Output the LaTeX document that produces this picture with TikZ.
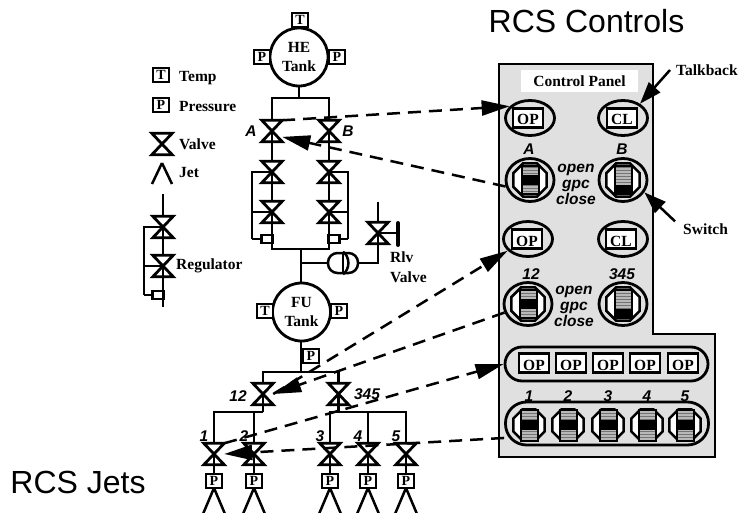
\documentclass[tikz,border=0pt]{standalone}
\usepackage{fontspec}
\setmainfont{Liberation Serif}
\newfontfamily\sansfont{Liberation Sans}
\usepackage{xcolor}
\usetikzlibrary{arrows.meta, positioning, calc, shapes.geometric, patterns}

\definecolor{panelgray}{gray}{0.88}

\tikzset{
  pipe/.style={line width=2.5pt},
  dasharrow/.style={line width=2.5pt, dash pattern=on 13pt off 8pt, -{Triangle[length=28pt,width=15pt]}},
  tagarrow/.style={line width=2.5pt, -{Triangle[length=22pt,width=15pt]}},
  valvept/.style={inner sep=0pt, minimum width=20pt, minimum height=21pt},
  valveline/.style={line width=2.8pt, line join=miter},
  tank/.style={circle, draw, line width=2.8pt, fill=white, minimum size=58pt, inner sep=0pt, align=center, font=\bfseries\fontsize{15.5}{19}\selectfont},
  sensorbox/.style={draw, line width=2.8pt, fill=white, minimum width=16pt, minimum height=14pt, inner sep=0pt, font=\bfseries\fontsize{14}{14}\selectfont},
  smallbox/.style={draw, line width=2.5pt, fill=white, minimum width=11pt, minimum height=8pt, inner sep=0pt},
  plain/.style={inner sep=0pt, font=\bfseries\fontsize{15.5}{19}\selectfont},
  tag/.style={inner sep=0pt, font=\sansfont\bfseries\itshape\fontsize{15.5}{16}\selectfont, align=center},
  talkring/.style={ellipse, draw, line width=2.8pt, minimum width=49pt, minimum height=35pt, inner sep=0pt},
  lampbox/.style={draw, line width=2.8pt, fill=white, minimum width=30pt, minimum height=19pt, inner sep=0pt, text height=14pt, text depth=0pt, font=\bfseries\fontsize{15.5}{15.5}\selectfont},
  knobring/.style={ellipse, draw, line width=2.8pt, minimum width=48pt, minimum height=43pt, inner sep=0pt},
  knobocta/.style={regular polygon, regular polygon sides=8, draw, line width=2.5pt, fill=white, inner sep=0pt},
  batbody/.style={draw, line width=2pt, preaction={fill=gray!55}, pattern=horizontal lines, pattern color=gray!90!black, minimum width=17pt, inner sep=0pt},
  batblack/.style={fill=black, minimum width=17pt, inner sep=0pt},
  capsule/.style={draw, line width=2.8pt, minimum width=203pt, inner sep=0pt}
}

\newcommand{\valvesym}[3]{
  \node[valvept] (#1) at (#2,#3) {};
  \draw[valveline] (#1.north west) -- (#1.north east) -- (#1.south west) -- (#1.south east) -- cycle;
}
% name, x, y, octagon size, bat height, black part
\newcommand{\knobsym}[6]{
  \node[knobocta, minimum size=#4pt] (#1oct) at (#2,#3) {};
  \node[batbody, minimum height=#5pt] (#1bat) at (#2,#3) {};
  \node[batblack, #6] at (#2,#3) {};
}

\begin{document}
\begin{tikzpicture}[x=1pt, y=-1pt]
\useasboundingbox (0,0) rectangle (738,513);

\node[font=\sansfont\fontsize{32}{32}\selectfont, inner sep=0pt] (ctrltitle) at (586.5,21.5) {RCS Controls};
\node[font=\sansfont\fontsize{32}{32}\selectfont, inner sep=0pt] (jettitle) at (78,482) {RCS Jets};

% legend
\node[sensorbox] (lgT) at (161,75) {T};
\node[sensorbox] (lgP) at (161,105) {P};
\node[plain, anchor=west] at (179,78) {Temp};
\node[plain, anchor=west] at (179,107) {Pressure};
\valvesym{lgV}{162}{144}
\node[plain, anchor=west] at (179,144) {Valve};
\coordinate (lgJet) at (162,163);
\draw[pipe] (lgJet) -- ++(-10,21) (lgJet) -- ++(10,21);
\node[plain, anchor=west] at (179,173) {Jet};
\coordinate (rgTop) at (163,194);
\coordinate (rgEnd) at (163,307);
\coordinate (rgByp) at (144,295);
\valvesym{rgA}{163}{227}
\valvesym{rgB}{163}{266}
\draw[pipe] (rgTop) -- (rgA.north) (rgA.center) -- (rgB.north) (rgB.center) -- (rgEnd);
\draw[pipe] (rgA.center) -| (rgByp) (rgB.center) -- (rgB.center -| rgByp);
\node[smallbox] (rgBox) at (158,295) {};
\draw[pipe] (rgByp) -- (rgBox.west);
\node[plain, anchor=west] at (176,266) {Regulator};

% helium side
\coordinate (heBus) at (299,98);
\coordinate (lowBus) at (301,249);
\coordinate (bypL) at (252,239);
\coordinate (bypR) at (348,239);
\valvesym{vA}{272}{131}
\valvesym{vB}{329}{131}
\valvesym{vC}{272}{172}
\valvesym{vD}{329}{172}
\valvesym{vE}{272}{212}
\valvesym{vF}{329}{212}
\draw[pipe] (heBus) -- (299,86);
\draw[pipe] (vA.north) |- (heBus) -| (vB.north);
\draw[pipe] (vA.center) -- (vC.north) (vC.center) -- (vE.north);
\draw[pipe] (vB.center) -- (vD.north) (vD.center) -- (vF.north);
\draw[pipe] (vE.center) |- (lowBus) -| (vF.center);
\draw[pipe] (vC.center) -| (bypL) (vE.center) -- (vE.center -| bypL);
\draw[pipe] (vD.center) -| (bypR) (vF.center) -- (vF.center -| bypR);
\node[smallbox] (boxL) at (267,239) {};
\node[smallbox] (boxR) at (334,239) {};
\draw[pipe] (bypL) -- (boxL.west) (bypR) -- (boxR.east);
\node[tank] (tankHE) at (299,57) {HE\\Tank};
\node[sensorbox] (heT) at (300,20) {T};
\node[sensorbox] (heP1) at (262,57) {P};
\node[sensorbox] (heP2) at (337,57) {P};
\node[tag] at (251,131) {A};
\node[tag] at (348,131) {B};

% relief valve
\coordinate (rlvTop) at (378,202);
\coordinate (rlvBar) at (398,233);
\valvesym{vRlv}{378}{233}
\node[draw, line width=2.5pt, minimum width=30pt, minimum height=20pt, inner sep=0pt, rounded corners=9.5pt] (regCap) at (343,263) {};
\draw[pipe] (rlvTop) -- (vRlv.north);
\draw[pipe] (vRlv.center) -- (rlvBar);
\draw[line width=4pt, line cap=round] (398,223) -- (398,245);
\draw[pipe] (vRlv.center) |- (regCap.east);
\draw[pipe] (301,263) -- (regCap.west);
\draw[pipe] (regCap.north) -- (regCap.south);
\draw[pipe] (regCap.north) to[bend left=55] (regCap.south);
\node[plain, anchor=west] at (390,257) {Rlv};
\node[plain, anchor=west] at (390,277) {Valve};

% fuel side
\coordinate (fuBus) at (301,372);
\coordinate (busLeft) at (263,412);
\coordinate (busRight) at (338.5,412);
\valvesym{vLeft}{263}{394}
\valvesym{vRight}{338.5}{394}
\draw[pipe] (lowBus) -- (fuBus);
\draw[pipe] (vLeft.north) |- (fuBus) -| (vRight.north);
\draw[pipe] (vLeft.center) -- (busLeft) (vRight.center) -- (busRight);
\foreach \jn/\jx/\jbus in {1/214/busLeft, 2/254/busLeft, 3/330/busRight, 4/368/busRight, 5/406/busRight} {
  \valvesym{vj\jn}{\jx}{454}
  \coordinate (jetTip\jn) at (\jx,488);
  \draw[pipe] (\jbus) -| (vj\jn.north);
  \draw[pipe] (vj\jn.center) -- (jetTip\jn);
  \draw[pipe] (jetTip\jn) -- ++(-11,26) (jetTip\jn) -- ++(11,26);
  \node[sensorbox] (jp\jn) at (\jx,481) {P};
  \node[tag] at (\jx-10,436) {\jn};
}
\node[tank] (tankFU) at (301.5,312) {FU\\Tank};
\node[sensorbox] (fuT) at (265,311) {T};
\node[sensorbox] (fuP1) at (339,311) {P};
\node[sensorbox] (fuP2) at (311,356) {P};
\node[tag] at (238,396) {12};
\node[tag] at (367,394) {345};

% control panel
\filldraw[line width=2.8pt, fill=panelgray] (499,64) -- (653,64) -- (653,334) -- (715,334) -- (715,457) -- (499,457) -- cycle;
\node[fill=white, minimum width=117pt, minimum height=22pt, inner sep=0pt, font=\bfseries\fontsize{15.5}{15.5}\selectfont] (paneltitle) at (579.5,81) {Control Panel};

\node[talkring] (ringA) at (530,118) {};
\node[talkring] (ringB) at (623,118) {};
\node[talkring] (ringC) at (528,239) {};
\node[talkring] (ringD) at (623,239) {};
\node[lampbox] (lampA) at (528,118) {OP};
\node[lampbox] (lampB) at (622,118) {CL};
\node[lampbox] (lampC) at (527,239) {OP};
\node[lampbox] (lampD) at (621,239) {CL};

\node[knobring] (swA) at (530,180) {};
\node[knobring] (swB) at (623,180) {};
\node[knobring] (swC) at (528,304) {};
\node[knobring] (swD) at (623,304) {};
\knobsym{swA}{530}{180}{36}{28}{minimum height=10pt}
\knobsym{swB}{623}{180}{36}{28}{minimum height=9pt, yshift=-9.5pt}
\knobsym{swC}{528}{304}{36}{28}{minimum height=10pt}
\knobsym{swD}{623}{304}{36}{28}{minimum height=9pt, yshift=-9.5pt}
\node[tag] at (529,149) {A};
\node[tag] at (622,149) {B};
\node[tag] at (531,274) {12};
\node[tag] at (622,274) {345};
\node[tag] at (576,184) {open\\gpc\\close};
\node[tag] at (574,306) {open\\gpc\\close};

\node[capsule, minimum height=34pt, rounded corners=17pt] (lampRow) at (606.5,364) {};
\node[capsule, minimum height=43pt, rounded corners=21pt] (knobRow) at (607,423.5) {};
\foreach \jn/\jx/\kx in {1/534/529, 2/571/568, 3/608/608, 4/645/647, 5/683/685} {
  \node[lampbox] (lampJ\jn) at (\jx,363) {OP};
  \knobsym{swJ\jn}{\kx}{425}{34}{31}{minimum height=10pt}
  \node[tag] at (\kx,396) {\jn};
}

% connectors
\node[plain, anchor=west, font=\bfseries\fontsize{15.5}{15.5}\selectfont] (talkback) at (676,70) {Talkback};
\node[plain, anchor=west] (switch) at (683,229) {Switch};
\draw[tagarrow] ($(talkback.west)+(-6,0)$) -- (ringB.40);
\draw[tagarrow] ($(switch.north west)+(-8,-2)$) -- (swB.-30);

\draw[dasharrow] (vA.north east) -- (ringA.150);
\draw[dasharrow] (swA.195) -- (vA.-30);
\draw[dasharrow] (vLeft.east) -- (ringC.210);
\draw[dasharrow] (swC.200) -- (vLeft.east);
\draw[dasharrow] (vj1.north east) -- (lampRow.west);
\draw[dasharrow] (knobRow.188) -- (vj1.east);
\end{tikzpicture}
\end{document}
